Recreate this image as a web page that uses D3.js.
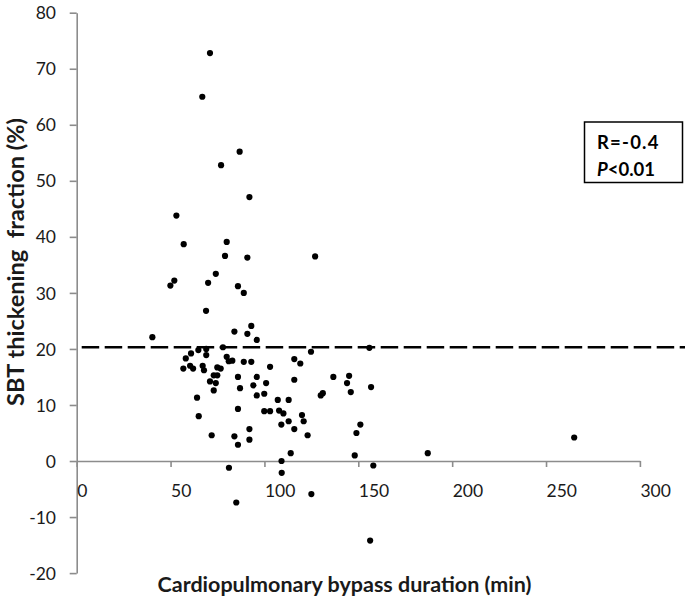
<!DOCTYPE html>
<html>
<head>
<meta charset="utf-8">
<script src="https://cdn.jsdelivr.net/npm/d3@7"></script>
<style>
  html, body { margin: 0; padding: 0; background: #fff; }
  svg { display: block; }
</style>
</head>
<body>
<svg id="chart" width="685" height="606"></svg>
<script>
// ---- data ----
const cpbDuration = [71.0, 66.9, 86.8, 76.9, 92.0, 53.1, 57.0, 79.9, 79.0, 90.9,
  127.0, 74.1, 52.0, 49.9, 70.0, 85.9, 89.0, 68.9, 40.3, 84.0,
  93.0, 90.9, 95.9, 69.0, 77.9, 64.8, 60.9, 69.0, 58.1, 79.9,
  81.0, 82.9, 89.0, 93.0, 56.8, 60.4, 62.0, 67.1, 67.8, 74.9,
  76.7, 73.0, 74.9, 71.0, 74.1, 73.0, 85.9, 87.0, 95.9, 94.1,
  100.9, 95.9, 99.9, 103.0, 115.9, 119.1, 115.9, 124.8, 64.1, 65.0,
  85.9, 107.1, 112.9, 99.9, 103.0, 107.8, 110.1, 112.9, 109.0, 115.9,
  120.0, 120.9, 123.0, 71.9, 84.0, 92.0, 92.0, 85.9, 114.0, 109.1,
  109.2, 81.1, 85.0, 125.0, 136.7, 145.1, 144.0, 146.0, 156.8, 130.0,
  131.1, 155.9, 151.1, 149.0, 148.1, 158.0, 187.0, 265.0, 156.3];
const sbtThickening = [72.8, 65.0, 55.2, 52.8, 47.1, 43.8, 38.7, 39.1, 36.6, 36.3,
  36.5, 33.4, 32.2, 31.3, 31.8, 31.2, 30.0, 26.8, 22.1, 23.1,
  24.1, 22.7, 21.6, 20.0, 20.3, 19.8, 19.2, 18.9, 18.3, 18.6,
  17.8, 17.9, 17.7, 17.7, 16.5, 17.0, 16.5, 17.0, 16.2, 16.7,
  16.5, 15.3, 15.3, 14.2, 13.9, 12.6, 15.0, 13.0, 15.0, 13.5,
  13.9, 11.7, 12.0, 16.8, 18.2, 17.4, 14.5, 19.5, 11.3, 8.0,
  9.3, 10.9, 10.9, 8.9, 8.9, 9.0, 8.5, 7.1, 6.5, 5.7,
  8.2, 7.1, 4.6, 4.6, 4.4, 5.7, 3.8, 2.9, 1.4, 0.0,
  -2.1, -1.2, -7.4, -5.9, 15.0, 15.2, 13.9, 12.3, 13.2, 11.7,
  12.1, 20.2, 6.5, 5.0, 1.0, -0.8, 1.4, 4.2, -14.2];
const xTicks = [0, 50, 100, 150, 200, 250, 300];
const yTicks = [-20, -10, 0, 10, 20, 30, 40, 50, 60, 70, 80];
const cutoff = 20.3;
const xTitle = "Cardiopulmonary bypass duration (min)";
const yTitle = "SBT thickening\u00a0 fraction (%)";
const statLines = ["R=-0.4", "P<0.01"];

// ---- layout ----
const svg = d3.select("#chart");
const FONT = "Lato, 'Open Sans', 'DejaVu Sans', sans-serif";
const axisColor = "#8c8c8c";
const plain = d => String(d);

const x = d3.scaleLinear().domain([0, 300]).range([76.7, 639.9]);
const y = d3.scaleLinear().domain([-20, 80]).range([573.1, 12.7]);

// y axis
const yAxis = svg.append("g")
  .attr("transform", `translate(${x(0)},0)`)
  .call(d3.axisLeft(y).tickValues(yTicks).tickSize(7).tickSizeOuter(0).tickFormat(plain));
yAxis.select(".domain").attr("stroke", axisColor).attr("stroke-width", 1.6);
yAxis.selectAll(".tick line").attr("stroke", axisColor).attr("stroke-width", 1.6);
yAxis.selectAll(".tick text")
  .attr("font-family", FONT).attr("font-size", 17.5).attr("fill", "#1a1a1a")
  .attr("x", 56 - x(0)).attr("dy", "0.35em");

// x axis at y = 0
const xAxis = svg.append("g")
  .attr("transform", `translate(0,${y(0)})`)
  .call(d3.axisBottom(x).tickValues(xTicks).tickSize(6).tickSizeOuter(0).tickFormat(plain));
xAxis.select(".domain").attr("stroke", axisColor).attr("stroke-width", 1.6);
xAxis.selectAll(".tick line").attr("stroke", axisColor).attr("stroke-width", 1.6);
xAxis.selectAll(".tick text")
  .attr("font-family", FONT).attr("font-size", 17.5).attr("fill", "#1a1a1a")
  .attr("text-anchor", "start").attr("x", 0).attr("y", 36).attr("dy", 0);

// dashed cutoff line
svg.append("line")
  .attr("x1", x(0) + 5).attr("x2", 685)
  .attr("y1", y(cutoff)).attr("y2", y(cutoff))
  .attr("stroke", "#000").attr("stroke-width", 2.3)
  .attr("stroke-dasharray", "17.5,5.5");

// points
const pts = cpbDuration.map((d, i) => ({ x: d, y: sbtThickening[i] }));
svg.append("g").selectAll("circle").data(pts).join("circle")
  .attr("cx", d => x(d.x)).attr("cy", d => y(d.y)).attr("r", 3.1).attr("fill", "#000");

// titles (fit to measured width)
function fitText(sel, target) {
  const w = sel.node().getComputedTextLength();
  const fs = +sel.attr("font-size");
  sel.attr("font-size", fs * target / w);
}
const xt = svg.append("text")
  .attr("x", 344.5).attr("y", 592)
  .attr("text-anchor", "middle").attr("font-family", FONT).attr("font-weight", "bold")
  .attr("font-size", 19).attr("fill", "#1a1a1a").text(xTitle);
fitText(xt, 374);

const yt = svg.append("text")
  .attr("transform", "translate(24,262) rotate(-90)")
  .attr("text-anchor", "middle").attr("font-family", FONT).attr("font-weight", "bold")
  .attr("font-size", 17).attr("fill", "#1a1a1a").text(yTitle);
fitText(yt, 288);

// stats box
svg.append("rect")
  .attr("x", 584.5).attr("y", 122).attr("width", 98).attr("height", 60.5)
  .attr("fill", "#fff").attr("stroke", "#000").attr("stroke-width", 1.5);
svg.append("text").attr("x", 597).attr("y", 148.5)
  .attr("font-family", FONT).attr("font-weight", "bold").attr("font-size", 18.5).attr("fill", "#000")
  .attr("letter-spacing", 1.2)
  .text(statLines[0]);
const t2 = svg.append("text").attr("x", 597).attr("y", 175.5)
  .attr("font-family", FONT).attr("font-weight", "bold").attr("font-size", 18.5).attr("fill", "#000");
t2.append("tspan").attr("font-style", "italic").text(statLines[1].slice(0, 1));
t2.append("tspan").text(statLines[1].slice(1));
</script>
</body>
</html>
